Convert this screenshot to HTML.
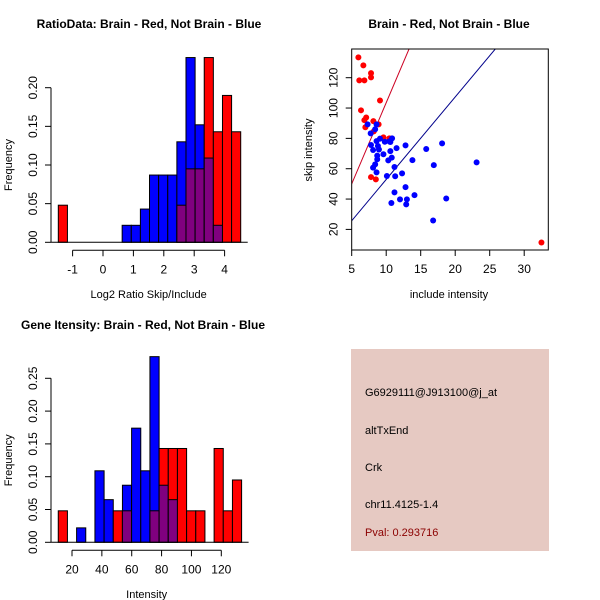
<!DOCTYPE html>
<html><head><meta charset="utf-8"><style>
body{margin:0;background:#fff;}
svg{display:block;font-family:"Liberation Sans",Arial,sans-serif;}
</style></head><body>
<svg id="chart" width="600" height="600" viewBox="0 0 600 600">
<rect x="0" y="0" width="600" height="600" fill="#fff"/>
<text x="149" y="28" text-anchor="middle" font-size="12" font-weight="bold">RatioData: Brain - Red, Not Brain - Blue</text>
<text x="449" y="28" text-anchor="middle" font-size="12" font-weight="bold">Brain - Red, Not Brain - Blue</text>
<text x="143" y="329" text-anchor="middle" font-size="12" font-weight="bold">Gene Itensity: Brain - Red, Not Brain - Blue</text>
<rect x="351" y="349" width="198" height="202" fill="#e6c9c2"/>
<text x="365" y="396" font-size="11">G6929111@J913100@j_at</text>
<text x="365" y="434" font-size="11">altTxEnd</text>
<text x="365" y="471" font-size="11">Crk</text>
<text x="365" y="508" font-size="11">chr11.4125-1.4</text>
<text x="365" y="536" font-size="11" fill="#8b0000">Pval: 0.293716</text>
</svg>
<script>
// ---- Histogram 1 data ----
const h1Start = -1.47, h1Width = 0.3;
const h1Red  = [0.048,0,0,0,0,0,0,0,0,0,0,0,0,0.048,0.095,0.095,0.239,0.143,0.19,0.143];
const h1Blue = [0,0,0,0,0,0,0,0.022,0.022,0.043,0.087,0.087,0.087,0.13,0.239,0.152,0.109,0.022,0,0];
const h1XTicks = [-1,0,1,2,3,4];
const h1YTicks = [0,0.05,0.10,0.15,0.20];
const h1YLabels = ["0.00","0.05","0.10","0.15","0.20"];
// ---- Histogram 2 data ----
const h2Start = 10.8, h2Width = 6.14;
const h2Red  = [0.048,0,0,0,0,0,0.048,0.048,0,0,0.048,0.143,0.143,0.143,0.048,0.048,0,0.143,0.048,0.095];
const h2Blue = [0,0,0.022,0,0.109,0.065,0,0.087,0.174,0.109,0.283,0.087,0.065,0,0,0,0,0,0,0];
const h2XTicks = [20,40,60,80,100,120];
const h2YTicks = [0,0.05,0.10,0.15,0.20,0.25];
const h2YLabels = ["0.00","0.05","0.10","0.15","0.20","0.25"];
// ---- Scatter data ----
const redX = [5.97,6.69,6.1,6.84,7.8,7.8,9.1,6.35,7.1,6.84,6.98,8.14,8.9,8.2,9.6,10.46,7.8,8.5,32.5];
const redY = [133.4,128.1,118.2,118.2,123,120.2,105,98.5,93.8,92,87.3,91.4,89.2,84.6,80.7,80,54.5,53,11.4];
const blueX = [7.3,8.6,7.75,8.4,9.1,7.8,8.6,8.8,8.1,8.95,9.8,10.46,10.85,10.6,9.6,8.7,8.7,10.3,10.8,10.6,11.5,12.8,15.8,18.1,13.8,16.9,23.1,8.1,8.4,8.6,10.1,11.2,11.3,12.3,12.8,11.2,12.0,13,12.9,14.1,10.75,18.7,16.8];
const blueY = [89.2,89.2,83.3,86,79.8,75.6,78.2,75,72.3,72.7,77.8,78,80,77.6,69.5,68.6,66.2,65.5,67.3,71.6,73.6,75.4,73,76.7,65.7,62.4,64.2,60.7,62.9,57.6,55.2,61.1,55,56.9,47.9,44.4,39.8,39.8,36.5,42.6,37.4,40.4,25.9];
const redLine = [10.7,-3.5];   // slope, intercept
const blueLine = [5.44,-1.5];
const scXTicks = [5,10,15,20,25,30];
const scYTicks = [20,40,60,80,100,120];

const svg = document.getElementById('chart');
const NS = 'http://www.w3.org/2000/svg';
function mk(tag, attrs){const e=document.createElementNS(NS,tag);for(const k in attrs)e.setAttribute(k,attrs[k]);svg.appendChild(e);return e;}
function txt(x,y,s,attrs){const e=mk('text',Object.assign({x:x,y:y,'font-size':12,'text-anchor':'middle'},attrs||{}));e.textContent=s;return e;}

function drawHist(cfg){
  const {start,width,red,blue,xs,ys,xTicks,yTicks,yLabels,prefix,xTitle,xTitleY} = cfg;
  for(let k=0;k<red.length;k++){
    const x0=xs(start+k*width), x1=xs(start+(k+1)*width);
    const r=red[k], b=blue[k];
    const hi=Math.max(r,b), lo=Math.min(r,b);
    if(hi>0){
      const bar=mk('rect',{x:x0,y:ys(hi),width:x1-x0,height:ys(0)-ys(hi),fill:r>=b?'#ff0000':'#0000ff',stroke:'#000','stroke-width':1});
      
      
    }
    if(lo>0){
      const ov=mk('rect',{x:x0,y:ys(lo),width:x1-x0,height:ys(0)-ys(lo),fill:'#80007f',stroke:'#000','stroke-width':1});
      
      
    }
  }
  const base=ys(0);
  const bl=mk('line',{x1:51,x2:xs(start+red.length*width)+7,y1:base,y2:base,stroke:'#000'});
  
  
  const ax=mk('line',{x1:xs(xTicks[0]),x2:xs(xTicks[xTicks.length-1]),y1:base+8,y2:base+8,stroke:'#000'});
  
  
  xTicks.forEach(t=>{
    mk('line',{x1:xs(t),x2:xs(t),y1:base+8,y2:base+14,stroke:'#000'});
    const l=txt(xs(t),base+31,String(t));
    
    
  });
  const ay=mk('line',{x1:51,x2:51,y1:ys(0),y2:ys(yTicks[yTicks.length-1]),stroke:'#000'});
  
  
  yTicks.forEach((t,i)=>{
    mk('line',{x1:45,x2:51,y1:ys(t),y2:ys(t),stroke:'#000'});
    const l=txt(37,ys(t),yLabels[i],{transform:`rotate(-90 37 ${ys(t)})`});
    
    
  });
  const xt=txt(xs((xTicks[0]+xTicks[xTicks.length-1])/2)+ (cfg.xTitleDx||0),xTitleY,xTitle,{'font-size':11});
  
  
  const ymid=(ys(0)+ys(yTicks[yTicks.length-1]))/2;
  const yt=txt(12,ymid,'Frequency',{'font-size':11,transform:`rotate(-90 12 ${ymid})`});
  
  
}

drawHist({start:h1Start,width:h1Width,red:h1Red,blue:h1Blue,
  xs:v=>103+v*30.4, ys:v=>242.3-v*773,
  xTicks:h1XTicks,yTicks:h1YTicks,yLabels:h1YLabels,prefix:'ratio-hist',
  xTitle:'Log2 Ratio Skip/Include',xTitleY:298,xTitleDx:0});
drawHist({start:h2Start,width:h2Width,red:h2Red,blue:h2Blue,
  xs:v=>72+(v-20)*1.493, ys:v=>542.3-v*656,
  xTicks:h2XTicks,yTicks:h2YTicks,yLabels:h2YLabels,prefix:'intensity-hist',
  xTitle:'Intensity',xTitleY:598,xTitleDx:0});

// ---- Scatter ----
const sx=v=>351.7+(v-5)*6.9, sy=v=>77.7-(v-120)*1.517;
const L=351.7,R=548.3,T=49,B=250;
const clip=mk('clipPath',{id:'scclip'});
const cr=document.createElementNS(NS,'rect');cr.setAttribute('x',L);cr.setAttribute('y',T);cr.setAttribute('width',R-L);cr.setAttribute('height',B-T);clip.appendChild(cr);
function abline(p,color,name){
  const xa=5-1,xb=40;
  const l=mk('line',{x1:sx(xa),y1:sy(p[0]*xa+p[1]),x2:sx(xb),y2:sy(p[0]*xb+p[1]),stroke:color,'stroke-width':1,'clip-path':'url(#scclip)'});
  
  
}
abline(redLine,'#cc0022','brain-fit-line');
abline(blueLine,'#00008b','not-brain-fit-line');
redX.forEach((x,i)=>{
  const c=mk('circle',{cx:sx(x),cy:sy(redY[i]),r:3,fill:'#ff0000'});
  
  
});
blueX.forEach((x,i)=>{
  const c=mk('circle',{cx:sx(x),cy:sy(blueY[i]),r:3,fill:'#0000ff'});
  
  
});
const box=mk('rect',{x:L,y:T,width:R-L,height:B-T,fill:'none',stroke:'#000'});


scXTicks.forEach(t=>{
  mk('line',{x1:sx(t),x2:sx(t),y1:B,y2:B+6,stroke:'#000'});
  const l=txt(sx(t),B+23,String(t));
  
  
});
scYTicks.forEach(t=>{
  mk('line',{x1:L-6,x2:L,y1:sy(t),y2:sy(t),stroke:'#000'});
  const l=txt(L-14,sy(t),String(t),{transform:`rotate(-90 ${L-14} ${sy(t)})`});
  
  
});
const sxt=txt(449,298,'include intensity',{'font-size':11});


const syt=txt(312,150,'skip intensity',{'font-size':11,transform:'rotate(-90 312 150)'});


</script>
</body></html>
